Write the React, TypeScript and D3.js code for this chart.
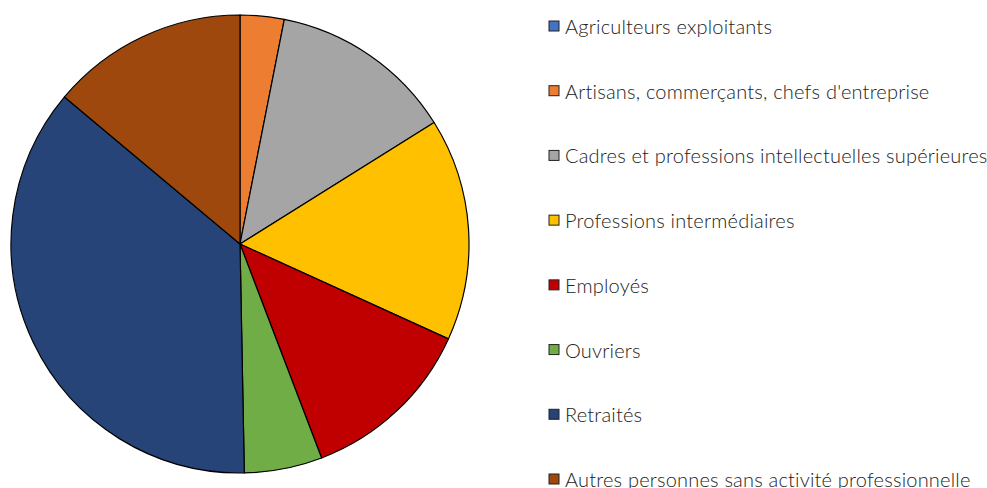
import React from "react";
import * as d3 from "d3";

const categories = [
  "Agriculteurs exploitants",
  "Artisans, commerçants, chefs d'entreprise",
  "Cadres et professions intellectuelles supérieures",
  "Professions intermédiaires",
  "Employés",
  "Ouvriers",
  "Retraités",
  "Autres personnes sans activité professionnelle",
];
const values = [0, 3.1, 13.0, 15.7, 12.4, 5.5, 36.4, 13.9];
const colors = ["#4472C4", "#ED7D31", "#A5A5A5", "#FFC000", "#C00000", "#70AD47", "#264478", "#9E480E"];

export default function App() {
  const W = 987, H = 488;
  const cx = 240, cy = 244, r = 229;
  const pie = d3.pie<number>().sort(null).value((d) => d)(values);
  const arc = d3.arc<d3.PieArcDatum<number>>().innerRadius(0).outerRadius(r);
  const legendY = d3.scalePoint<number>().domain(d3.range(categories.length)).range([26, 479]);
  return (
    <svg width={W} height={H} style={{ position: "absolute", left: 0, top: 0 }}>
      <rect width={W} height={H} fill="#fff" />
      <g transform={`translate(${cx},${cy})`}>
        {pie.map((p, i) => (
          <path key={i} d={arc(p) || ""} fill={colors[i]} stroke="#000" strokeWidth={1.2} strokeLinejoin="round" />
        ))}
      </g>
      <g fontFamily="Lato, sans-serif" fontSize={20} fill="#222">
        {categories.map((c, i) => (
          <g key={i} transform={`translate(549,${legendY(i)})`}>
            <rect x={0} y={-5} width={10} height={10} fill={colors[i]} stroke="#222" strokeWidth={1} />
            <text x={16} y={0} dominantBaseline="central" letterSpacing={0.2} style={{ fontWeight: 300 }}>{c}</text>
          </g>
        ))}
      </g>
    </svg>
  );
}
